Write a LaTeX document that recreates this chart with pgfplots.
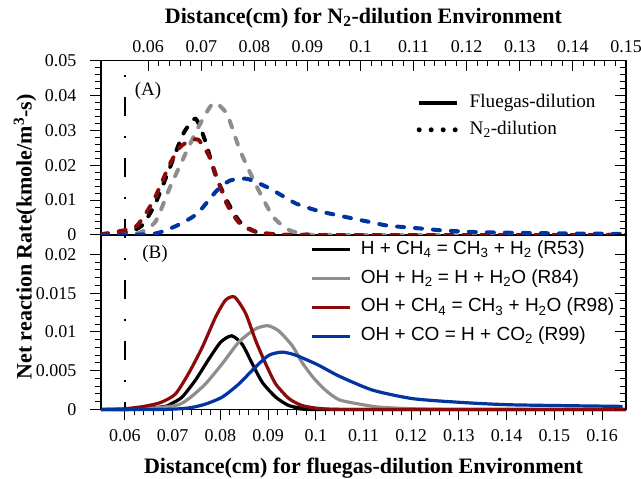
\documentclass[border=0pt]{standalone}
\usepackage{fontspec}
\setmainfont{Liberation Serif}
\setsansfont{Liberation Sans}
\usepackage{pgfplots}
\pgfplotsset{compat=1.18}

\definecolor{cgray}{RGB}{142,142,142}
\definecolor{cred}{RGB}{140,10,10}
\definecolor{cblue}{RGB}{0,52,160}

\pgfplotsset{
  panel/.style={
    scale only axis, width=525pt, height=174.5pt,
    axis line style={line width=1.2pt},
    major tick length=11pt, minor tick length=6pt,
    tick style={black, line width=1pt},
    tick label style={font=\fontsize{18}{18}\selectfont},
    yticklabel style={xshift=-10pt},
    label style={font=\bfseries\fontsize{22}{22}\selectfont},
    scaled ticks=false,
    minor x tick num=4, minor y tick num=4,
  },
  nflame/.style={line width=4pt, line cap=round, dash pattern=on 7pt off 11pt, smooth, tension=0.4},
  fflame/.style={line width=3.2pt, smooth, tension=0.4},
}

\begin{document}
\begin{tikzpicture}
\path[use as bounding box] (-101pt,-69.5pt) rectangle (540pt,409.5pt);

% ---------------- lower panel: flue-gas dilution ----------------
\begin{axis}[panel, at={(0pt,0pt)}, anchor=south west, clip=false,
  xmin=0.055, xmax=0.165, ymin=0, ymax=0.0225,
  xtick={0.06,0.07,0.08,0.09,0.1,0.11,0.12,0.13,0.14,0.15,0.16},
  xticklabels={0.06,0.07,0.08,0.09,0.1,0.11,0.12,0.13,0.14,0.15,0.16},
  ytick={0,0.005,0.01,0.015,0.02},
  yticklabels={0,0.005,0.01,0.015,0.02},
  xtick pos=left, ytick pos=left, tick align=outside,
  xticklabel style={yshift=-5pt},
  xlabel={Distance(cm) for fluegas-dilution Environment},
  xlabel style={yshift=-10pt},
  legend style={at={(rel axis cs:0.3994,0.668)}, anchor=west, draw=none, fill=none,
    inner sep=0pt, outer sep=0pt, row sep=11.8pt,
    font=\sffamily\fontsize{19}{19}\selectfont,
    nodes={inner sep=0pt, text height=13pt, text depth=4pt},
    /tikz/every odd column/.append style={column sep=9pt}},
  legend cell align=left,
  legend image code/.code={\draw[#1] (0pt,0pt) -- (38pt,0pt);},
]
% flame-front reference position
\addplot[black, line width=2pt, dash pattern=on 2pt off 20pt on 19pt off 20pt, forget plot]
  coordinates {(0.06,0.04309) (0.06,0)};

\addplot[fflame, black] coordinates {
 (0.055,0) (0.060,0) (0.064,0.0001) (0.0685,0.0004) (0.0699,0.0008) (0.072,0.0016)
 (0.0748,0.0038) (0.0776,0.0065) (0.0801,0.0087) (0.0824,0.0095) (0.0846,0.0084)
 (0.0867,0.0059) (0.0888,0.0035) (0.0916,0.0016) (0.0944,0.0005) (0.0979,0.0001)
 (0.102,0) (0.165,0)};
\addlegendentry{H + CH\textsubscript{4} = CH\textsubscript{3} + H\textsubscript{2} (R53)}

\addplot[fflame, cgray] coordinates {
 (0.055,0) (0.062,0) (0.0706,0.0005) (0.0734,0.0014) (0.0769,0.0033) (0.0804,0.0059)
 (0.0839,0.0087) (0.0874,0.0104) (0.0900,0.0108) (0.0923,0.0101) (0.0951,0.0082)
 (0.0972,0.0060) (0.0995,0.0041) (0.1021,0.00245) (0.1049,0.00125) (0.1091,0.0007)
 (0.1133,0.0003) (0.12,0.0001) (0.13,0) (0.165,0)};
\addlegendentry{OH + H\textsubscript{2} = H + H\textsubscript{2}O (R84)}

\addplot[fflame, cred] coordinates {
 (0.055,0) (0.058,0.00005) (0.0601,0.0001) (0.064,0.0004) (0.0675,0.0009) (0.0706,0.0020)
 (0.0734,0.0047) (0.0762,0.0080) (0.0790,0.0119) (0.0811,0.0141) (0.0830,0.0145)
 (0.0853,0.0124) (0.0874,0.0089) (0.0895,0.0059) (0.0916,0.0033) (0.0944,0.0014)
 (0.0972,0.0005) (0.1014,0.0001) (0.11,0) (0.165,0)};
\addlegendentry{OH + CH\textsubscript{4} = CH\textsubscript{3} + H\textsubscript{2}O (R98)}

\addplot[fflame, cblue] coordinates {
 (0.055,0) (0.068,0) (0.0734,0.0002) (0.0769,0.0007) (0.0804,0.0016) (0.0839,0.0033)
 (0.0874,0.0055) (0.0902,0.0070) (0.0930,0.0074) (0.0958,0.0070) (0.1003,0.0058)
 (0.1049,0.0043) (0.1119,0.0025) (0.1203,0.0014) (0.1308,0.0009) (0.1413,0.0006)
 (0.1643,0.0004)};
\addlegendentry{OH + CO = H + CO\textsubscript{2} (R99)}

\node[font=\fontsize{19}{19}\selectfont] at (rel axis cs:0.103,0.889) {(B)};
\end{axis}

% right-hand ticks of the lower panel point inward
\begin{axis}[panel, at={(0pt,0pt)}, anchor=south west,
  xmin=0.055, xmax=0.165, ymin=0, ymax=0.0225,
  axis x line=none, axis y line*=right,
  ytick={0,0.005,0.01,0.015,0.02}, yticklabels={}, ytick align=inside]
\end{axis}

% ---------------- upper panel: N2 dilution ----------------
\begin{axis}[panel, at={(0pt,174.5pt)}, anchor=south west,
  xmin=0.0511, xmax=0.15, ymin=0, ymax=0.05,
  xtick={0.06,0.07,0.08,0.09,0.1,0.11,0.12,0.13,0.14,0.15},
  xticklabels={0.06,0.07,0.08,0.09,0.1,0.11,0.12,0.13,0.14,0.15},
  ytick={0,0.01,0.02,0.03,0.04,0.05},
  yticklabels={0,0.01,0.02,0.03,0.04,0.05},
  xtick pos=right, xticklabel pos=right, xtick align=inside,
  ytick pos=left, ytick align=outside,
  xticklabel style={yshift=4pt},
  xlabel={Distance(cm) for N\textsubscript{2}-dilution Environment},
  xlabel style={yshift=6pt},
  legend style={at={(rel axis cs:0.6013,0.679)}, anchor=west, draw=none, fill=none,
    inner sep=0pt, outer sep=0pt, row sep=9.6pt,
    font=\fontsize{19.2}{19.2}\selectfont,
    nodes={inner sep=0pt, text height=13pt, text depth=4pt},
    /tikz/every odd column/.append style={column sep=10pt}},
  legend cell align=left,
  legend image code/.code={\draw[#1] (0pt,0pt) -- (38pt,0pt);},
]
\addplot[nflame, black, forget plot] coordinates {
 (0.0511,0) (0.056,0.0008) (0.0588,0.0027) (0.0613,0.0089) (0.0641,0.0194) (0.0666,0.0290)
 (0.0689,0.0333) (0.0707,0.0271) (0.0726,0.0175) (0.0748,0.0099) (0.0773,0.0037)
 (0.0805,0.0008) (0.085,0.0001) (0.09,0) (0.15,0)};
\addplot[nflame, cgray, forget plot] coordinates {
 (0.0511,0) (0.058,0.0005) (0.0613,0.0037) (0.0641,0.0137) (0.0673,0.0242) (0.0698,0.0319)
 (0.0723,0.0378) (0.0748,0.0347) (0.0773,0.0242) (0.0805,0.0137) (0.0836,0.0051)
 (0.0867,0.0013) (0.0898,0.0003) (0.095,0) (0.15,0)};
\addplot[nflame, cred, forget plot] coordinates {
 (0.0511,0.0002) (0.0553,0.0013) (0.0579,0.0027) (0.0610,0.0099) (0.0641,0.0204)
 (0.0660,0.0252) (0.0680,0.0271) (0.0695,0.0272) (0.0714,0.0228) (0.0729,0.0166)
 (0.0748,0.0089) (0.0773,0.0032) (0.0805,0.0008) (0.085,0.0001) (0.09,0) (0.15,0)};
\addplot[nflame, cblue, forget plot] coordinates {
 (0.0511,0) (0.058,0.0001) (0.0616,0.0005) (0.0654,0.0027) (0.0692,0.0061) (0.0729,0.0127)
 (0.0754,0.0156) (0.0786,0.0161) (0.0824,0.0137) (0.0852,0.0113) (0.0880,0.0089)
 (0.0918,0.0070) (0.0949,0.0059) (0.0980,0.0049) (0.1018,0.0037) (0.1050,0.0027)
 (0.1087,0.0022) (0.1118,0.0018) (0.1156,0.0013) (0.1225,0.0008) (0.1351,0.0005)
 (0.15,0.0003)};

\addlegendimage{black, line width=4pt}
\addlegendentry{Fluegas-dilution}
\addlegendimage{black, line width=5pt, line cap=round, dash pattern=on 0pt off 12pt}
\addlegendentry{N\textsubscript{2}-dilution}

\node[font=\fontsize{19}{19}\selectfont] at (rel axis cs:0.0895,0.828) {(A)};
\end{axis}

% right-hand ticks of the upper panel point inward
\begin{axis}[panel, at={(0pt,174.5pt)}, anchor=south west,
  xmin=0.0511, xmax=0.15, ymin=0, ymax=0.05,
  axis x line=none, axis y line*=right,
  ytick={0,0.01,0.02,0.03,0.04,0.05}, yticklabels={}, ytick align=inside]
\end{axis}

\node[rotate=90, font=\bfseries\fontsize{22}{22}\selectfont] at (-76pt,172.5pt)
  {Net reaction Rate(kmole/m\textsuperscript{3}-s)};
\end{tikzpicture}
\end{document}
